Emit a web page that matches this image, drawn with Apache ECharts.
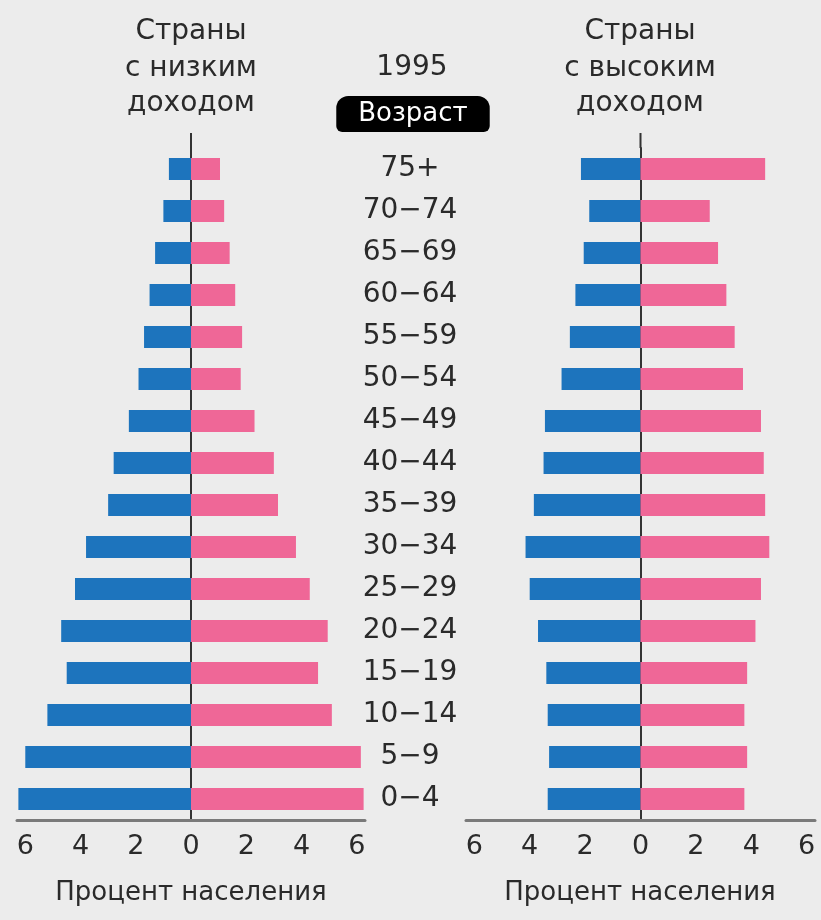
<!DOCTYPE html>
<html>
<head>
<meta charset="utf-8">
<script src="https://cdn.jsdelivr.net/npm/echarts@6/dist/echarts.min.js"></script>
<style>
    html, body { margin: 0; padding: 0; background: #ececec; }
    #pyramid { width: 821px; height: 920px; }
</style>
</head>
<body>
<div id="pyramid"></div>
<script>
// возрастные группы, сверху вниз
var ages = ['75+', '70−74', '65−69', '60−64', '55−59', '50−54', '45−49', '40−44',
            '35−39', '30−34', '25−29', '20−24', '15−19', '10−14', '5−9', '0−4'];
// страны с низким доходом, % населения
var lowMale   = [0.8, 1.0, 1.3, 1.5, 1.7, 1.9, 2.25, 2.8, 3.0, 3.8, 4.2, 4.7, 4.5, 5.2, 6.0, 6.25];
var lowFemale = [1.05, 1.2, 1.4, 1.6, 1.85, 1.8, 2.3, 3.0, 3.15, 3.8, 4.3, 4.95, 4.6, 5.1, 6.15, 6.25];
// страны с высоким доходом, % населения
var highMale   = [2.15, 1.85, 2.05, 2.35, 2.55, 2.85, 3.45, 3.5, 3.85, 4.15, 4.0, 3.7, 3.4, 3.35, 3.3, 3.35];
var highFemale = [4.5, 2.5, 2.8, 3.1, 3.4, 3.7, 4.35, 4.45, 4.5, 4.65, 4.35, 4.15, 3.85, 3.75, 3.85, 3.75];
var tickValues = [-6, -4, -2, 0, 2, 4, 6];

var FONT = 'DejaVu Sans';
var BLUE = '#1d74bd';
var PINK = '#ef6797';
var TOP = 148, HEIGHT = 672;

function neg(arr) {
    return arr.map(function (v) { return -v; });
}

function valueAxis(idx) {
    return {
        gridIndex: idx,
        type: 'value',
        min: -6.3,
        max: 6.3,
        axisLine: { show: true, onZero: false, lineStyle: { color: '#7a7a7a', width: 3 } },
        axisTick: { show: false },
        splitLine: { show: false },
        axisLabel: {
            customValues: tickValues,
            formatter: function (v) { return Math.abs(v); },
            color: '#2a2a2a',
            fontFamily: FONT,
            fontSize: 27,
            margin: 13
        }
    };
}

function catAxis(idx) {
    return {
        gridIndex: idx,
        type: 'category',
        inverse: true,
        data: ages,
        axisLine: { show: true, onZero: true, lineStyle: { color: '#333', width: 2 } },
        axisTick: { show: false },
        axisLabel: { show: false }
    };
}

function bars(name, data, idx, color, stack) {
    return {
        name: name,
        type: 'bar',
        xAxisIndex: idx,
        yAxisIndex: idx,
        stack: stack,
        barWidth: 22,
        data: data,
        itemStyle: { color: color },
        silent: true
    };
}

function label(x, y, text, size, extra) {
    var style = {
        x: x, y: y, text: text, align: 'center', verticalAlign: 'middle',
        fill: '#2a2a2a', font: size + 'px "' + FONT + '"'
    };
    for (var k in extra) style[k] = extra[k];
    return { type: 'text', silent: true, style: style };
}

var chart = echarts.init(document.getElementById('pyramid'));

var option = {
    backgroundColor: '#ececec',
    animation: false,
    grid: [
        { left: 17, width: 348, top: TOP, height: HEIGHT },
        { left: 466, width: 349, top: TOP, height: HEIGHT }
    ],
    xAxis: [valueAxis(0), valueAxis(1)],
    yAxis: [
        catAxis(0),
        catAxis(1),
        // подписи возрастов между пирамидами
        {
            gridIndex: 0,
            type: 'category',
            inverse: true,
            position: 'right',
            data: ages,
            axisLine: { show: false, onZero: false },
            axisTick: { show: false },
            axisLabel: {
                align: 'center',
                margin: 45,
                color: '#2a2a2a',
                fontFamily: FONT,
                fontSize: 28
            }
        }
    ],
    series: [
        bars('low-m', neg(lowMale), 0, BLUE, 'low'),
        bars('low-f', lowFemale, 0, PINK, 'low'),
        bars('high-m', neg(highMale), 1, BLUE, 'high'),
        bars('high-f', highFemale, 1, PINK, 'high')
    ],
    graphic: [
        label(191, 32, 'Страны', 28),
        label(191, 69, 'с низким', 28),
        label(191, 104, 'доходом', 28),
        label(640, 32, 'Страны', 28),
        label(640, 69, 'с высоким', 28),
        label(640, 104, 'доходом', 28),
        label(412, 68, '1995', 28),
        label(413, 114, 'Возраст', 26, {
            fill: '#ffffff', backgroundColor: '#000', borderRadius: [12, 12, 6, 6], padding: [5, 22, 5, 22]
        }),
        label(191, 893, 'Процент населения', 26),
        label(640, 893, 'Процент населения', 26)
    ]
};

chart.setOption(option);

// нулевые линии чуть выше сетки, как в оригинале
var x0 = chart.convertToPixel({ xAxisIndex: 0 }, 0);
var x1 = chart.convertToPixel({ xAxisIndex: 1 }, 0);
var extra = [x0, x1].map(function (x) {
    return {
        type: 'line', silent: true,
        shape: { x1: x, y1: TOP - 15, x2: x, y2: TOP },
        style: { stroke: '#333', lineWidth: 2 }
    };
});
chart.setOption({ graphic: option.graphic.concat(extra) });
</script>
</body>
</html>
